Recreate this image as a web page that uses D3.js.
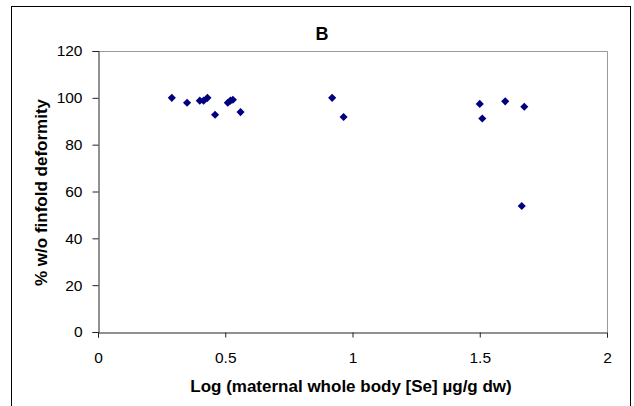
<!DOCTYPE html>
<html>
<head>
<meta charset="utf-8">
<script src="https://cdn.jsdelivr.net/npm/d3@7"></script>
<style>
  body { margin: 0; background: #fff; }
  text { font-family: "Liberation Sans", Arial, sans-serif; }
</style>
</head>
<body>
<div id="chart"></div>
<script>
// values
const logSe = [0.29, 0.35, 0.40, 0.415, 0.43, 0.46, 0.51, 0.52, 0.53, 0.56, 0.92, 0.965, 1.50, 1.51, 1.60, 1.665, 1.675];
const pctNoDeformity = [100, 97.9, 98.8, 98.8, 100, 92.8, 97.9, 98.8, 99.2, 93.9, 100, 91.8, 97.4, 91.2, 98.5, 53.8, 96.2];
const xTicks = [0, 0.5, 1, 1.5, 2];
const yTicks = [0, 20, 40, 60, 80, 100, 120];

const width = 634, height = 406;
const margin = { top: 51, right: 27, bottom: 74, left: 98 };
const plotW = width - margin.left - margin.right;
const plotH = height - margin.top - margin.bottom;

const svg = d3.select("#chart")
    .append("svg")
    .attr("width", width)
    .attr("height", height);

// outer chart border
svg.append("rect")
    .attr("x", 11.5).attr("y", 6.5)
    .attr("width", 619).attr("height", 420)
    .attr("fill", "none").attr("stroke", "#000").attr("stroke-width", 1);

const g = svg.append("g")
    .attr("transform", `translate(${margin.left},${margin.top})`);

const x = d3.scaleLinear().domain([0, 2]).range([0, plotW]);
const y = d3.scaleLinear().domain([0, 120]).range([plotH, 0]);

// plot area border (gray top/right)
g.append("path")
    .attr("d", `M0.5,0.5H${plotW + 0.5}V${plotH}`)
    .attr("fill", "none").attr("stroke", "#999").attr("stroke-width", 1);

const yAxis = g.append("g")
    .attr("transform", "translate(0.5,0)")
    .call(d3.axisLeft(y).tickValues(yTicks).tickSize(6).tickPadding(10));
const xAxis = g.append("g")
    .attr("transform", `translate(0,${plotH + 0.5})`)
    .call(d3.axisBottom(x).tickValues(xTicks).tickFormat(d3.format("")).tickSize(5).tickPadding(14));

[yAxis, xAxis].forEach(a => {
    a.select(".domain").attr("stroke", "#222");
    a.selectAll(".tick line").attr("stroke", "#222");
    a.selectAll(".tick text").attr("font-size", 15.5).attr("fill", "#000")
        .attr("font-family", "Liberation Sans, Arial, sans-serif");
});

// markers
const diamond = d3.symbol().type(d3.symbolDiamond2).size(42);
g.selectAll("path.pt")
    .data(logSe.map((v, i) => [v, pctNoDeformity[i]]))
    .join("path")
    .attr("class", "pt")
    .attr("d", diamond)
    .attr("transform", d => `translate(${x(d[0])},${y(d[1])})`)
    .attr("fill", "#000080");

// titles
svg.append("text")
    .attr("x", 322).attr("y", 40)
    .attr("text-anchor", "middle")
    .attr("font-size", 18).attr("font-weight", "bold")
    .text("B");

svg.append("text")
    .attr("x", 351).attr("y", 392)
    .attr("text-anchor", "middle")
    .attr("font-size", 17).attr("font-weight", "bold")
    .text("Log (maternal whole body [Se] µg/g dw)");

svg.append("text")
    .attr("transform", `translate(47,${margin.top + plotH / 2 + 1}) rotate(-90)`)
    .attr("text-anchor", "middle")
    .attr("font-size", 17).attr("font-weight", "bold")
    .text("% w/o finfold deformity");
</script>
</body>
</html>
